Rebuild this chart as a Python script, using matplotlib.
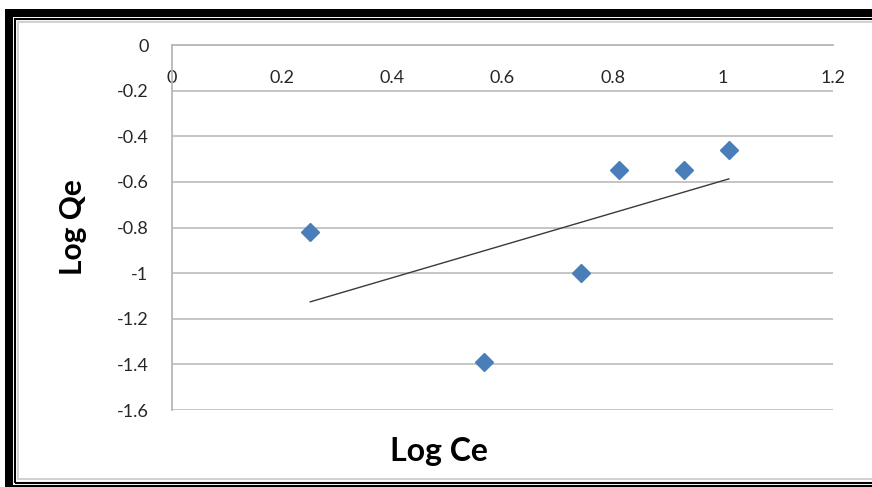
import numpy as np
import matplotlib
matplotlib.use('Agg')
import matplotlib.pyplot as plt
from matplotlib.patches import Rectangle

# data
log_ce = [0.251, 0.567, 0.742, 0.811, 0.929, 1.011]
log_qe = [-0.82, -1.39, -1.00, -0.548, -0.548, -0.46]
x_ticks = [0, 0.2, 0.4, 0.6, 0.8, 1, 1.2]
x_labels = ['0', '0.2', '0.4', '0.6', '0.8', '1', '1.2']
y_ticks = [0, -0.2, -0.4, -0.6, -0.8, -1, -1.2, -1.4, -1.6]
y_labels = ['0', '-0.2', '-0.4', '-0.6', '-0.8', '-1', '-1.2', '-1.4', '-1.6']

plt.rcParams['font.family'] = ['Lato', 'DejaVu Sans']

W, H = 872, 487
fig = plt.figure(figsize=(W/100, H/100), dpi=100)

# frame around the chart (pixel based)
def px_rect(x0, y0, x1, y1, **kw):
    fig.patches.append(Rectangle((x0/W, 1-y1/H), (x1-x0)/W, (y1-y0)/H,
                                 transform=fig.transFigure, figure=fig,
                                 zorder=-10, **kw))

px_rect(5, 9, 880, 495, facecolor='black', edgecolor='none')
px_rect(12.5, 17, 880, 485, facecolor='white', edgecolor='none')
px_rect(14.5, 19, 880, 483, facecolor='none', edgecolor='black', lw=1.5)
px_rect(18, 21.5, 880, 479, facecolor='white', edgecolor='#c8c8c8', lw=1.2)

ax = fig.add_axes([172/W, 1-410/H, (833-172)/W, (410-45)/H])
ax.set_facecolor('none')

ax.plot(log_ce, log_qe, 'D', color='#4a7ebb', ms=9.5, zorder=3)

# linear trendline
p = np.polyfit(log_ce, log_qe, 1)
xs = np.array([min(log_ce), max(log_ce)])
ax.plot(xs, np.polyval(p, xs), '-', color='#3a3a3a', lw=1.0, zorder=2)

ax.set_xlim(0, 1.2)
ax.set_ylim(-1.6, 0)
ax.set_yticks(y_ticks)
ax.set_yticklabels(y_labels)
ax.set_xticks(x_ticks)
ax.set_xticklabels(x_labels)

ax.yaxis.grid(True, color='#c0c0c0', lw=1.3)
ax.set_axisbelow(True)
for s in ['right', 'bottom']:
    ax.spines[s].set_visible(False)
ax.spines['left'].set_color('#b8b8b8')
ax.spines['top'].set_color('#b8b8b8')
ax.spines['left'].set_linewidth(1.3)
ax.spines['top'].set_linewidth(1.3)

ax.tick_params(axis='y', length=0, pad=17, labelsize=13, labelcolor='#262626')
ax.tick_params(axis='x', top=True, labeltop=True, bottom=False, labelbottom=False,
               length=0, pad=-24, labelsize=13, labelcolor='#262626')
for lbl in ax.get_xticklabels():
    lbl.set_va('center')

fig.text(73/W, 1-227/H, 'Log Qe', rotation=90, ha='center', va='center',
         fontsize=21.5, fontweight='bold')
fig.text(439/W, 1-452/H, 'Log Ce', ha='center', va='center',
         fontsize=23, fontweight='bold')

fig.savefig('out.png', dpi=100)
